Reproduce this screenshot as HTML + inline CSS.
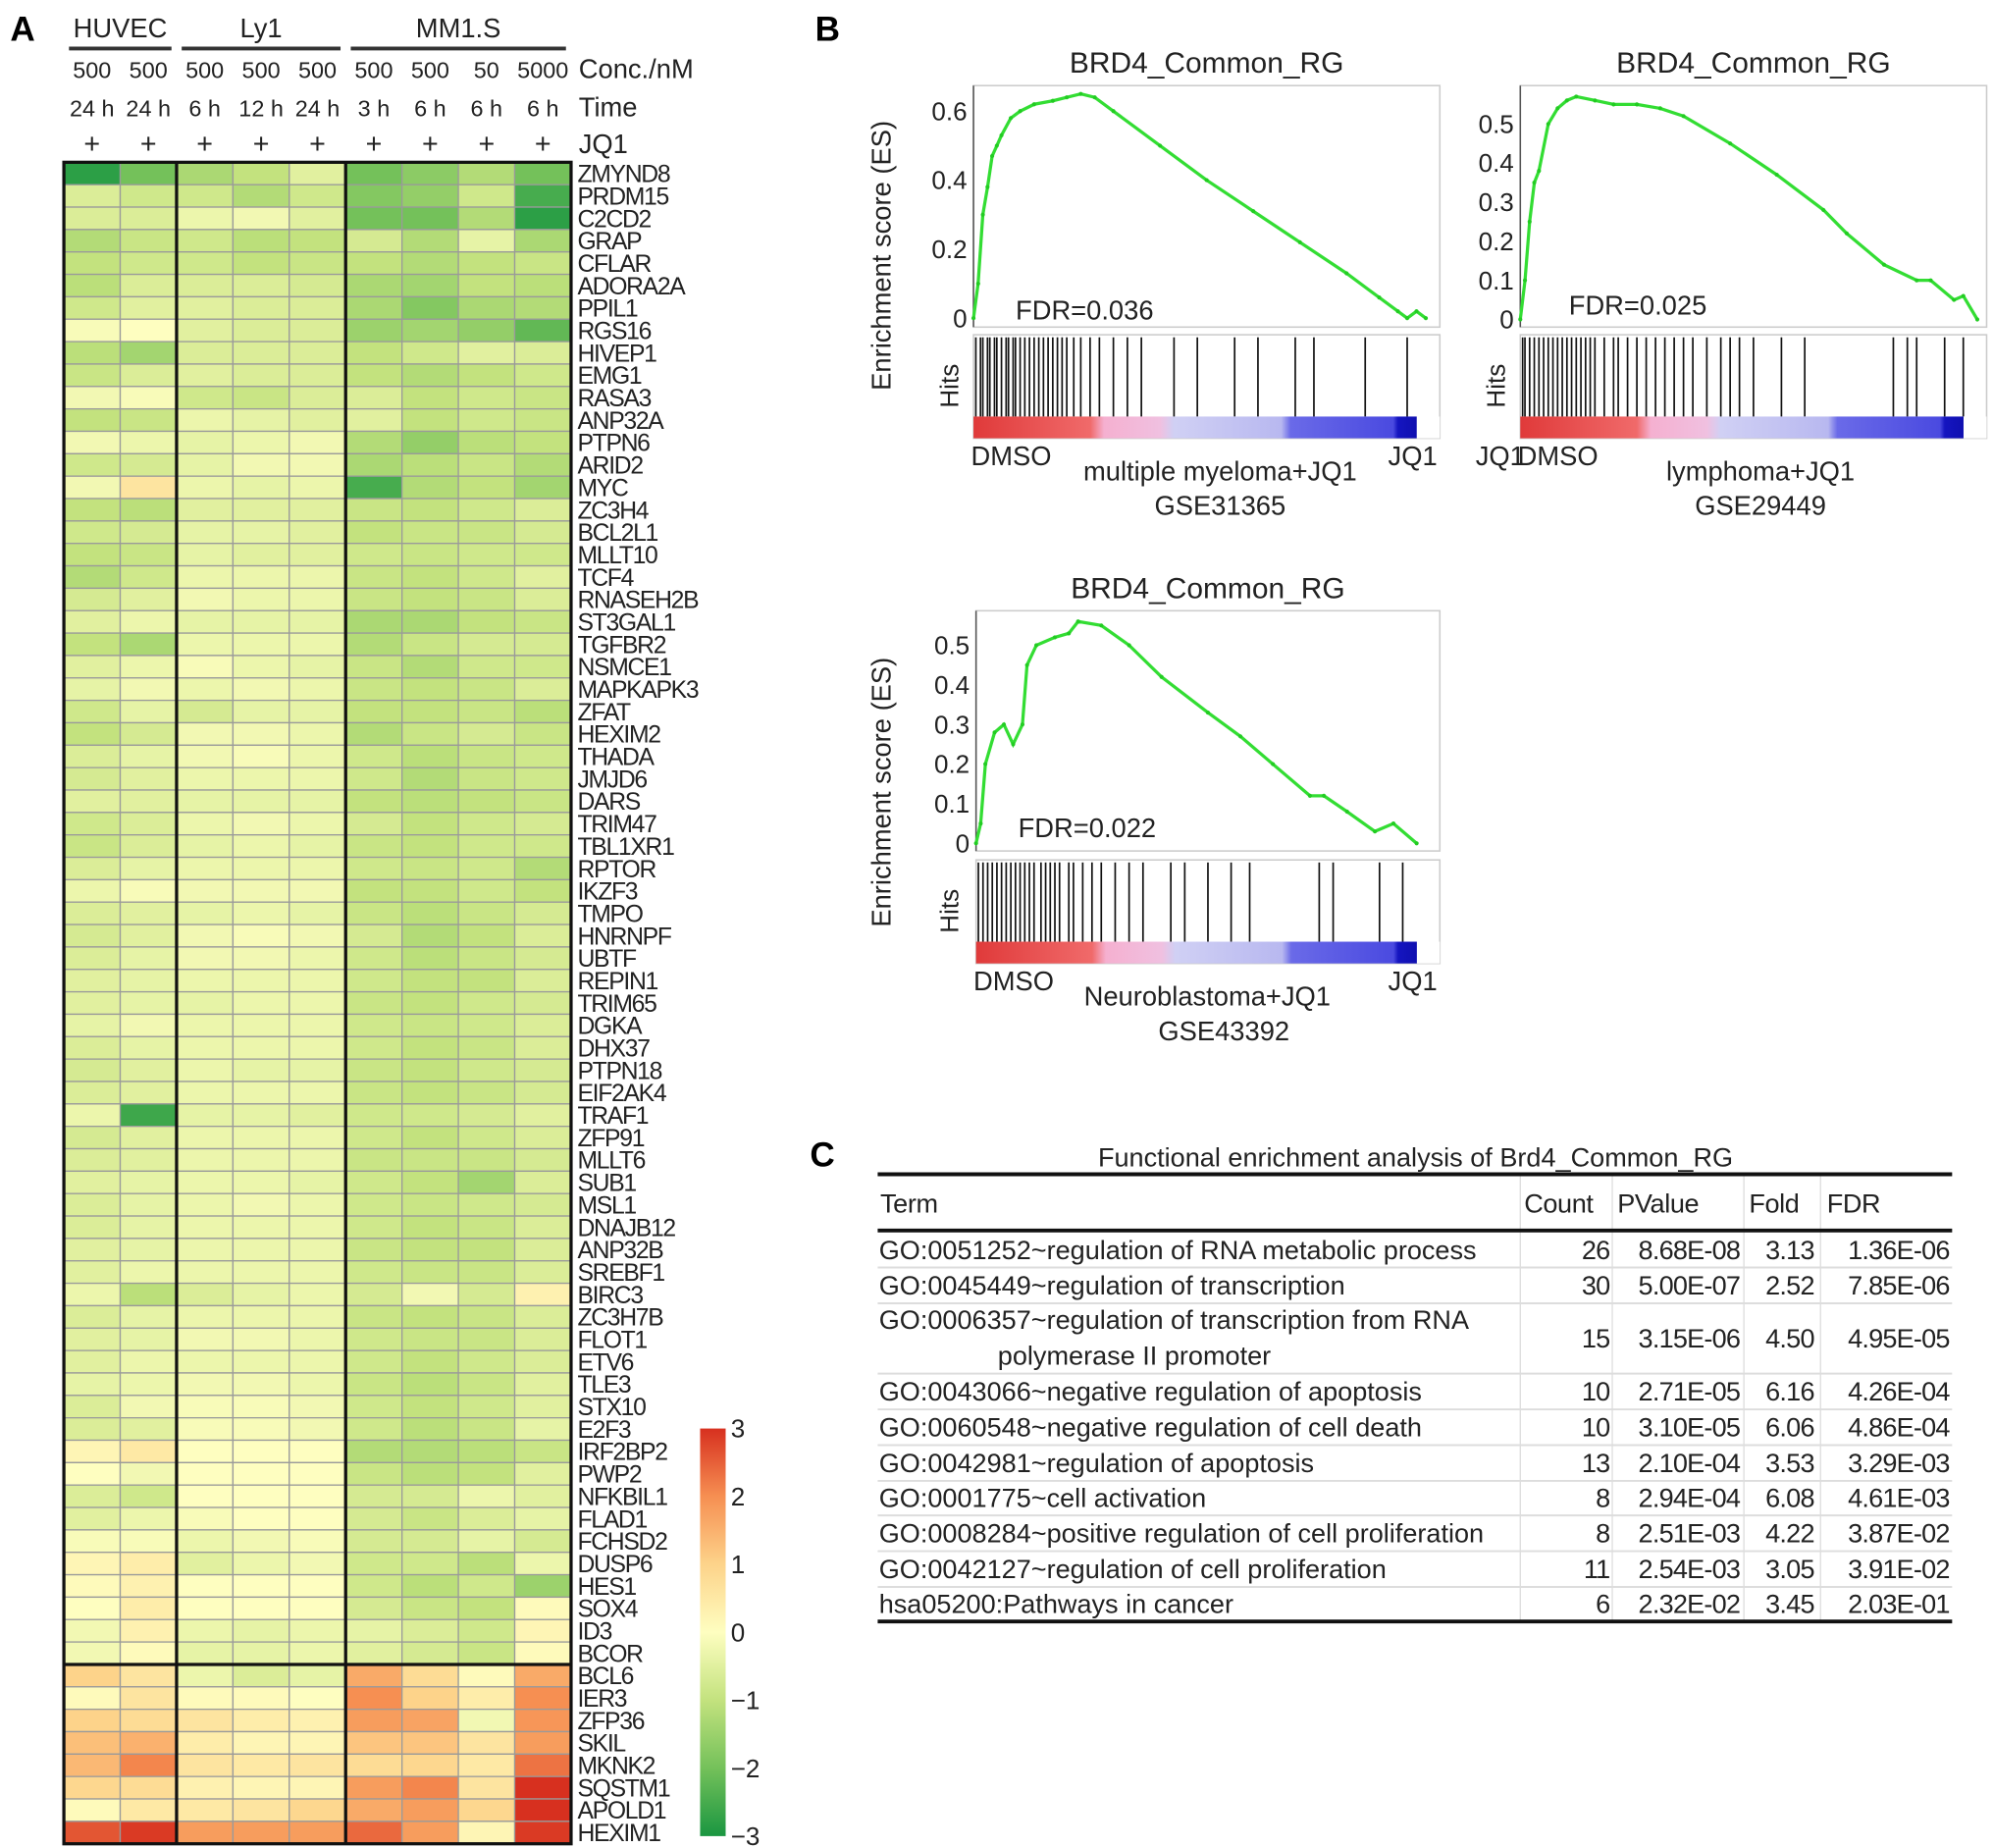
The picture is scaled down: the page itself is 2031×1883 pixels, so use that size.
<!DOCTYPE html>
<html><head><meta charset="utf-8"><style>
html,body{margin:0;padding:0;background:#fff;}
svg{display:block;font-family:"Liberation Sans",Arial,sans-serif;}
</style></head><body>
<svg id="fig" width="2031" height="1883" viewBox="0 0 1560 1446.3" preserveAspectRatio="none" xmlns="http://www.w3.org/2000/svg">
<g id="panelA"></g>
<g id="panelB"></g>
<g id="panelC"></g>
</svg>
<script>
const genes=["ZMYND8","PRDM15","C2CD2","GRAP","CFLAR","ADORA2A","PPIL1","RGS16","HIVEP1","EMG1","RASA3","ANP32A","PTPN6","ARID2","MYC","ZC3H4","BCL2L1","MLLT10","TCF4","RNASEH2B","ST3GAL1","TGFBR2","NSMCE1","MAPKAPK3","ZFAT","HEXIM2","THADA","JMJD6","DARS","TRIM47","TBL1XR1","RPTOR","IKZF3","TMPO","HNRNPF","UBTF","REPIN1","TRIM65","DGKA","DHX37","PTPN18","EIF2AK4","TRAF1","ZFP91","MLLT6","SUB1","MSL1","DNAJB12","ANP32B","SREBF1","BIRC3","ZC3H7B","FLOT1","ETV6","TLE3","STX10","E2F3","IRF2BP2","PWP2","NFKBIL1","FLAD1","FCHSD2","DUSP6","HES1","SOX4","ID3","BCOR","BCL6","IER3","ZFP36","SKIL","MKNK2","SQSTM1","APOLD1","HEXIM1"];
const concLabels=["500","500","500","500","500","500","500","50","5000"];
const timeLabels=["24 h","24 h","6 h","12 h","24 h","3 h","6 h","6 h","6 h"];
const groups=[["HUVEC",0,2],["Ly1",2,5],["MM1.S",5,9]];
const heatValues=[
[-2.8,-2.0,-1.3,-1.0,-0.5,-2.0,-1.7,-1.2,-2.0],
[-0.6,-0.8,-0.8,-1.2,-0.8,-1.8,-1.6,-0.8,-2.5],
[-0.6,-0.6,-0.3,-0.2,-0.5,-2.0,-2.0,-1.2,-2.8],
[-1.2,-0.9,-0.8,-1.1,-1.0,-0.7,-1.2,-0.4,-1.3],
[-1.0,-0.8,-0.8,-1.0,-0.9,-1.0,-1.2,-1.0,-0.9],
[-1.1,-0.6,-0.6,-0.6,-0.7,-1.3,-1.4,-1.0,-1.1],
[-0.8,-0.5,-0.5,-0.6,-0.6,-1.3,-1.8,-1.3,-1.2],
[-0.1,0.0,-0.5,-0.6,-0.6,-1.5,-1.4,-1.6,-2.2],
[-1.1,-1.4,-0.6,-0.6,-0.6,-1.0,-0.8,-0.5,-0.6],
[-0.9,-0.6,-0.5,-0.6,-0.6,-1.0,-1.2,-1.0,-0.8],
[-0.2,-0.1,-0.8,-0.9,-0.6,-0.6,-1.0,-0.8,-0.9],
[-1.0,-0.9,-0.3,-0.4,-0.5,-0.5,-1.0,-0.8,-0.9],
[-0.2,-0.3,-0.4,-0.3,-0.2,-1.2,-1.6,-1.1,-1.0],
[-0.8,-0.7,-0.4,-0.2,-0.2,-1.3,-1.1,-0.9,-1.2],
[-0.2,0.6,-0.3,-0.4,-0.3,-2.5,-1.2,-1.0,-1.4],
[-1.0,-1.1,-0.5,-0.5,-0.5,-0.9,-1.0,-0.8,-0.6],
[-0.8,-0.7,-0.4,-0.4,-0.5,-1.0,-0.9,-0.9,-0.7],
[-1.0,-0.9,-0.4,-0.5,-0.5,-0.8,-0.9,-0.8,-0.8],
[-1.2,-0.8,-0.3,-0.3,-0.3,-0.9,-1.0,-0.8,-0.5],
[-0.7,-0.5,-0.2,-0.3,-0.3,-0.9,-1.0,-0.9,-0.6],
[-0.5,-0.3,-0.4,-0.4,-0.4,-1.3,-1.3,-1.0,-0.9],
[-1.0,-1.3,-0.3,-0.3,-0.3,-1.2,-0.9,-0.7,-0.7],
[-0.5,-0.3,-0.1,-0.3,-0.4,-0.9,-1.2,-0.8,-0.8],
[-0.4,-0.2,-0.3,-0.2,-0.3,-0.9,-1.0,-0.9,-0.6],
[-0.8,-0.4,-0.7,-0.4,-0.4,-1.0,-1.0,-0.9,-1.1],
[-1.0,-0.7,-0.2,-0.2,-0.3,-1.2,-0.9,-0.7,-0.9],
[-0.6,-0.4,-0.2,-0.1,-0.3,-0.8,-1.1,-0.9,-0.8],
[-0.7,-0.5,-0.3,-0.3,-0.3,-0.8,-1.2,-0.9,-0.8],
[-0.5,-0.5,-0.4,-0.4,-0.4,-1.0,-1.1,-1.0,-0.9],
[-0.8,-0.6,-0.3,-0.2,-0.3,-0.7,-1.0,-0.8,-0.7],
[-0.9,-0.6,-0.4,-0.3,-0.4,-0.9,-1.0,-0.8,-0.8],
[-0.6,-0.4,-0.3,-0.3,-0.3,-0.8,-0.9,-0.8,-1.2],
[-0.3,-0.1,-0.2,-0.2,-0.2,-1.0,-1.0,-0.8,-1.0],
[-0.6,-0.5,-0.4,-0.3,-0.4,-0.9,-1.1,-0.9,-0.7],
[-0.7,-0.5,-0.2,-0.1,-0.2,-0.7,-1.2,-1.0,-0.6],
[-0.6,-0.4,-0.2,-0.2,-0.3,-0.8,-1.1,-0.9,-0.7],
[-0.5,-0.4,-0.3,-0.3,-0.3,-0.8,-1.0,-1.0,-0.6],
[-0.5,-0.4,-0.4,-0.3,-0.3,-0.9,-1.0,-0.8,-0.7],
[-0.4,-0.2,-0.3,-0.3,-0.3,-0.8,-0.9,-0.8,-0.6],
[-0.6,-0.4,-0.3,-0.3,-0.3,-0.8,-1.0,-0.9,-0.6],
[-0.7,-0.5,-0.3,-0.4,-0.4,-0.9,-1.0,-0.8,-0.7],
[-0.6,-0.5,-0.3,-0.3,-0.3,-0.9,-1.0,-0.9,-0.7],
[-0.3,-2.6,-0.4,-0.4,-0.5,-0.8,-0.8,-0.7,-0.5],
[-0.7,-0.5,-0.3,-0.3,-0.3,-0.8,-1.0,-0.8,-0.6],
[-0.6,-0.5,-0.3,-0.3,-0.3,-0.9,-0.9,-0.9,-0.7],
[-0.5,-0.4,-0.3,-0.3,-0.4,-0.8,-1.0,-1.4,-0.6],
[-0.6,-0.4,-0.3,-0.2,-0.3,-0.8,-0.9,-0.8,-0.7],
[-0.6,-0.4,-0.3,-0.3,-0.3,-0.8,-1.0,-0.9,-0.6],
[-0.5,-0.4,-0.3,-0.3,-0.3,-0.9,-1.0,-1.0,-0.6],
[-0.5,-0.3,-0.3,-0.3,-0.3,-0.8,-0.9,-0.9,-0.6],
[-0.3,-1.1,-0.6,-0.4,-0.3,-0.7,-0.2,-0.7,0.3],
[-0.6,-0.4,-0.3,-0.3,-0.3,-0.9,-1.0,-0.9,-0.6],
[-0.5,-0.4,-0.2,-0.2,-0.3,-0.8,-0.9,-0.9,-0.6],
[-0.5,-0.3,-0.3,-0.3,-0.3,-0.8,-1.0,-0.8,-0.6],
[-0.4,-0.3,-0.2,-0.2,-0.3,-0.9,-1.1,-0.9,-0.5],
[-0.6,-0.2,-0.1,-0.1,-0.2,-0.8,-1.0,-0.8,-0.5],
[-0.6,-0.5,-0.1,-0.1,-0.2,-0.8,-1.1,-0.9,-0.4],
[0.2,0.5,0.0,0.0,0.0,-1.2,-1.2,-1.1,-0.9],
[0.0,-0.2,0.0,0.0,0.0,-0.9,-1.1,-1.0,-0.5],
[-0.6,-0.8,0.0,0.0,0.0,-0.7,-0.7,-0.3,-0.5],
[-0.5,-0.3,-0.1,0.0,0.0,-0.7,-0.9,-0.6,-0.4],
[-0.1,-0.1,-0.3,-0.2,-0.1,-0.7,-0.7,-0.4,-0.7],
[0.2,0.4,-0.5,-0.3,-0.2,-0.8,-0.8,-1.1,-0.3],
[0.1,0.3,0.0,0.0,0.0,-0.8,-1.1,-0.8,-1.5],
[0.0,0.4,0.0,0.0,0.0,-0.7,-0.9,-1.0,0.1],
[-0.2,0.3,-0.3,-0.4,-0.3,-0.4,-0.6,-0.8,0.2],
[-0.2,0.1,-0.4,-0.4,-0.3,-0.5,-0.7,-0.9,0.1],
[1.0,0.6,-0.3,-0.6,-0.4,1.6,0.8,0.1,1.6],
[0.1,0.6,0.1,0.1,0.0,2.0,1.0,0.4,2.0],
[1.0,0.8,0.6,0.4,0.3,1.8,1.7,-0.2,1.9],
[1.3,1.5,0.4,0.2,0.2,1.2,1.2,0.6,1.8],
[1.4,2.1,0.6,0.5,0.6,0.8,0.9,0.5,2.3],
[0.9,0.8,0.3,0.2,0.2,1.8,2.1,0.6,3.0],
[0.1,0.5,0.5,0.6,0.9,1.6,1.8,0.9,3.0],
[2.6,2.9,1.8,1.8,1.8,2.4,1.8,0.2,2.9]];
const colorbarTicks=[3,2,1,0,-1,-2,-3];
/* GSEA data: rank fraction and enrichment score */
const es1Rank=[0,0.01,0.02,0.03,0.04,0.05,0.06,0.08,0.1,0.13,0.17,0.2,0.23,0.26,0.3,0.4,0.5,0.6,0.7,0.8,0.87,0.91,0.93,0.95,0.97];
const es1Score=[0,0.1,0.3,0.38,0.47,0.5,0.53,0.58,0.6,0.62,0.63,0.64,0.65,0.64,0.6,0.5,0.4,0.31,0.22,0.13,0.06,0.02,0.0,0.02,0.0];
const es2Rank=[0,0.01,0.02,0.03,0.04,0.06,0.08,0.1,0.12,0.16,0.2,0.25,0.3,0.35,0.45,0.55,0.65,0.7,0.78,0.85,0.88,0.93,0.95,0.98];
const es2Score=[0,0.1,0.25,0.35,0.38,0.5,0.54,0.56,0.57,0.56,0.55,0.55,0.54,0.52,0.45,0.37,0.28,0.22,0.14,0.1,0.1,0.05,0.06,0.0];
const es3Rank=[0,0.01,0.02,0.04,0.06,0.08,0.1,0.11,0.13,0.17,0.2,0.22,0.27,0.33,0.4,0.5,0.57,0.64,0.72,0.75,0.8,0.86,0.9,0.95];
const es3Score=[0,0.05,0.2,0.28,0.3,0.25,0.3,0.45,0.5,0.52,0.53,0.56,0.55,0.5,0.42,0.33,0.27,0.2,0.12,0.12,0.08,0.03,0.05,0.0];
const hits1=[0.005,0.015,0.02,0.03,0.035,0.045,0.05,0.06,0.07,0.075,0.085,0.09,0.1,0.11,0.12,0.13,0.14,0.15,0.16,0.17,0.18,0.19,0.2,0.215,0.23,0.25,0.27,0.3,0.33,0.36,0.43,0.48,0.56,0.61,0.69,0.73,0.84,0.93];
const hits2=[0.005,0.01,0.02,0.03,0.04,0.05,0.06,0.07,0.08,0.09,0.1,0.11,0.12,0.13,0.14,0.15,0.16,0.18,0.2,0.21,0.23,0.25,0.27,0.29,0.31,0.33,0.35,0.37,0.4,0.43,0.45,0.47,0.5,0.56,0.61,0.8,0.83,0.85,0.91,0.95];
const hits3=[0.005,0.015,0.025,0.035,0.045,0.055,0.065,0.075,0.085,0.095,0.105,0.115,0.125,0.14,0.15,0.16,0.17,0.18,0.2,0.21,0.23,0.25,0.27,0.3,0.33,0.36,0.42,0.45,0.5,0.55,0.59,0.74,0.77,0.87,0.92];
const ticks1=[0,0.2,0.4,0.6];
const ticks2=[0,0.1,0.2,0.3,0.4,0.5];
const ticks3=[0,0.1,0.2,0.3,0.4,0.5];
const tableTerms=[["GO:0051252~regulation of RNA metabolic process"],["GO:0045449~regulation of transcription"],["GO:0006357~regulation of transcription from RNA","polymerase II promoter"],["GO:0043066~negative regulation of apoptosis"],["GO:0060548~negative regulation of cell death"],["GO:0042981~regulation of apoptosis"],["GO:0001775~cell activation"],["GO:0008284~positive regulation of cell proliferation"],["GO:0042127~regulation of cell proliferation"],["hsa05200:Pathways in cancer"]];
const tableCount=["26","30","15","10","10","13","8","8","11","6"];
const tablePValue=["8.68E-08","5.00E-07","3.15E-06","2.71E-05","3.10E-05","2.10E-04","2.94E-04","2.51E-03","2.54E-03","2.32E-02"];
const tableFold=["3.13","2.52","4.50","6.16","6.06","3.53","6.08","4.22","3.05","3.45"];
const tableFDR=["1.36E-06","7.85E-06","4.95E-05","4.26E-04","4.86E-04","3.29E-03","4.61E-03","3.87E-02","3.91E-02","2.03E-01"];

const NS="http://www.w3.org/2000/svg";
function mk(parent,tag,attrs,text){const e=document.createElementNS(NS,tag);for(const k in attrs)e.setAttribute(k,attrs[k]);if(text!==undefined)e.textContent=text;parent.appendChild(e);return e;}
const stops=[[-3,[26,150,65]],[-2,[116,193,90]],[-1,[195,226,126]],[0,[254,254,192]],[1,[253,211,138]],[2,[246,143,82]],[3,[215,48,31]]];
function colorFor(v){v=Math.max(-3,Math.min(3,v));for(let i=0;i<stops.length-1;i++){const a=stops[i],b=stops[i+1];if(v<=b[0]){const t=(v-a[0])/(b[0]-a[0]);const c=a[1].map((x,j)=>Math.round(x+(b[1][j]-x)*t));return `rgb(${c[0]},${c[1]},${c[2]})`;}}return 'rgb(215,48,31)';}

/* ---------- Panel A ---------- */
const A=document.getElementById('panelA');
const hx0=50,hx1=447,hy0=127,hy1=1443;
const nC=9,nR=genes.length;
const cw=(hx1-hx0)/nC,rh=(hy1-hy0)/nR;
const colX=c=>hx0+c*cw, rowY=r=>hy0+r*rh;
let t=mk(A,'text',{x:8,y:32,'font-size':27,'font-weight':'bold'},'A');

groups.forEach(g=>{
  const x0=colX(g[1])+4,x1=colX(g[2])-4;
  let e=mk(A,'text',{x:(x0+x1)/2,y:29,'font-size':21,'text-anchor':'middle',fill:'#222'},g[0]);
  
  let l=mk(A,'line',{x1:x0,x2:x1,y1:38,y2:38,stroke:'#333','stroke-width':3});
  
});
for(let c=0;c<nC;c++){
  const cx=colX(c)+cw/2;
  let e=mk(A,'text',{x:cx,y:61,'font-size':18,'text-anchor':'middle',fill:'#222'},concLabels[c]);
  
  e=mk(A,'text',{x:cx,y:91,'font-size':18,'text-anchor':'middle',fill:'#222'},timeLabels[c]);
  
  e=mk(A,'text',{x:cx,y:120,'font-size':22,'text-anchor':'middle',fill:'#222'},'+');
  
}
[["Conc./nM",61],["Time",91],["JQ1",120]].forEach(p=>{let e=mk(A,'text',{x:453,y:p[1],'font-size':21,fill:'#222'},p[0]);});
for(let r=0;r<nR;r++){
  for(let c=0;c<nC;c++){
    let e=mk(A,'rect',{x:colX(c),y:rowY(r),width:cw,height:rh,fill:colorFor(heatValues[r][c]),stroke:'#9a9a9a','stroke-width':1});
    
  }
  let e=mk(A,'text',{x:452,y:rowY(r)+rh-2,'font-size':19,'letter-spacing':'-1',fill:'#222'},genes[r]);
  
}
let fr=mk(A,'rect',{x:hx0,y:hy0,width:hx1-hx0,height:hy1-hy0,fill:'none',stroke:'#111','stroke-width':2.5});

[2,5].forEach(c=>{let l=mk(A,'line',{x1:colX(c),x2:colX(c),y1:hy0,y2:hy1,stroke:'#111','stroke-width':2.5});});
let hl=mk(A,'line',{x1:hx0,x2:hx1,y1:rowY(67),y2:rowY(67),stroke:'#111','stroke-width':2.5});

/* colorbar */
const defs=mk(document.getElementById('fig'),'defs',{});
const lg=mk(defs,'linearGradient',{id:'cbar',x1:0,y1:1,x2:0,y2:0});
stops.forEach(s=>mk(lg,'stop',{offset:((s[0]+3)/6*100)+'%','stop-color':`rgb(${s[1].join(',')})`}));
const cbY0=1118,cbY1=1437,cbv=v=>cbY1-(v+3)/6*(cbY1-cbY0);
let cb=mk(A,'rect',{x:548,y:cbY0,width:20,height:cbY1-cbY0,fill:'url(#cbar)'});

colorbarTicks.forEach(v=>{let e=mk(A,'text',{x:572,y:cbv(v)+7,'font-size':20,fill:'#222'},v<0?'\u2212'+(-v):String(v));});

/* ---------- Panel B ---------- */
const B=document.getElementById('panelB');
t=mk(B,'text',{x:638,y:32,'font-size':27,'font-weight':'bold'},'B');

const grad=mk(defs,'linearGradient',{id:'rankbar',x1:0,y1:0,x2:1,y2:0});
[[0,'#e03a3a'],[0.25,'#f06a6a'],[0.28,'#f5b0d0'],[0.4,'#f0c0e0'],[0.43,'#d0d0f4'],[0.66,'#b8b8f0'],[0.68,'#6a6ae8'],[0.9,'#4a4ae0'],[0.91,'#1515c0'],[0.95,'#1010b0'],[0.951,'#ffffff'],[1,'#ffffff']].forEach(s=>mk(grad,'stop',{offset:s[0],'stop-color':s[1]}));
function gsea(o){
  const g=mk(B,'g',{});
  const w=o.x1-o.x0;
  const xs=f=>o.x0+f*w, ys=v=>o.y0v-(v/o.ymax)*(o.y0v-o.yTop);
  let e=mk(g,'text',{x:(o.x0+o.x1)/2,y:o.yt-10,'font-size':23,'text-anchor':'middle',fill:'#222'},'BRD4_Common_RG');
  
  e=mk(g,'rect',{x:o.x0,y:o.yt,width:w,height:o.yb-o.yt,fill:'none',stroke:'#ccc','stroke-width':1.2});
  
  e=mk(g,'line',{x1:o.x0,x2:o.x0,y1:o.yt,y2:o.yb,stroke:'#555','stroke-width':1.2});
  o.ticks.forEach(v=>{let tt=mk(g,'text',{x:o.x0-5,y:ys(v)+7,'font-size':20,'text-anchor':'end',fill:'#222'},String(v));});
  let pts=o.rank.map((r,i)=>xs(r).toFixed(1)+','+ys(o.score[i]).toFixed(1)).join(' ');
  e=mk(g,'polyline',{points:pts,fill:'none',stroke:'#33dd33','stroke-width':2.5});
  
  o.rank.forEach((r,i)=>{let c=mk(g,'circle',{cx:xs(r),cy:ys(o.score[i]),r:1.6,fill:'#22cc22'});});
  e=mk(g,'text',{x:o.fdrX,y:o.fdrY,'font-size':21,fill:'#222'},o.fdr);
  
  e=mk(g,'rect',{x:o.x0,y:o.hy0,width:w,height:o.hy1-o.hy0+17,fill:'none',stroke:'#ccc','stroke-width':1.2});
  
  o.hits.forEach(h=>{let l=mk(g,'line',{x1:xs(h),x2:xs(h),y1:o.hy0+2,y2:o.hy1,stroke:'#111','stroke-width':1.3});});
  e=mk(g,'rect',{x:o.x0,y:o.hy1,width:w,height:17,fill:'url(#rankbar)'});
  
  e=mk(g,'text',{x:o.hitsX,y:(o.hy0+o.hy1)/2+8,'font-size':20,'text-anchor':'middle',fill:'#222',transform:`rotate(-90 ${o.hitsX} ${(o.hy0+o.hy1)/2+8})`},'Hits');
  
  o.labels.forEach(L=>{let tt=mk(g,'text',{x:L[1],y:L[2],'font-size':21,'text-anchor':L[3]||'middle',fill:'#222'},L[0]);});
  if(o.ylab){e=mk(g,'text',{x:697,y:o.ylab,'font-size':21,'text-anchor':'middle',fill:'#222',transform:`rotate(-90 697 ${o.ylab})`},'Enrichment  score (ES)');}
}
gsea({name:'gsea-multiple-myeloma',x0:762,x1:1127,yt:67,yb:256,y0v:249,yTop:87,ymax:0.6,ticks:ticks1,rank:es1Rank,score:es1Score,hits:hits1,hy0:262,hy1:326,fdr:'FDR=0.036',fdrX:795,fdrY:250,hitsX:750,ylab:200,
 labels:[['DMSO',760,364,'start'],['multiple myeloma+JQ1',955,376],['JQ1',1125,364,'end'],['GSE31365',955,403]]});
gsea({name:'gsea-lymphoma',x0:1190,x1:1555,yt:67,yb:256,y0v:250,yTop:97,ymax:0.5,ticks:ticks2,rank:es2Rank,score:es2Score,hits:hits2,hy0:262,hy1:326,fdr:'FDR=0.025',fdrX:1228,fdrY:246,hitsX:1178,ylab:null,
 labels:[['JQ1',1155,364,'start'],['DMSO',1188,364,'start'],['lymphoma+JQ1',1378,376],['GSE29449',1378,403]]});
gsea({name:'gsea-neuroblastoma',x0:764,x1:1127,yt:478,yb:666,y0v:660,yTop:505,ymax:0.5,ticks:ticks3,rank:es3Rank,score:es3Score,hits:hits3,hy0:673,hy1:737,fdr:'FDR=0.022',fdrX:797,fdrY:655,hitsX:750,ylab:620,
 labels:[['DMSO',762,775,'start'],['Neuroblastoma+JQ1',945,787],['JQ1',1125,775,'end'],['GSE43392',958,814]]});

/* ---------- Panel C ---------- */
const C=document.getElementById('panelC');
t=mk(C,'text',{x:634,y:913,'font-size':27,'font-weight':'bold'},'C');

const tx0=687,tx1=1528,FS=20.8;
t=mk(C,'text',{x:1108,y:913,'font-size':20.8,'text-anchor':'middle',fill:'#222'},'Functional enrichment analysis of Brd4_Common_RG');

const rowTop=[965,992,1020,1075,1103,1131,1159,1186,1214,1242];
const rowH=[27,28,55,28,28,28,27,28,28,27];
[1190,1262,1365,1425].forEach(x=>{let l=mk(C,'line',{x1:x,x2:x,y1:920,y2:1269,stroke:'#ddd','stroke-width':1});});
let ln=mk(C,'line',{x1:tx0,x2:tx1,y1:919,y2:919,stroke:'#111','stroke-width':3});
ln=mk(C,'line',{x1:tx0,x2:tx1,y1:963,y2:963,stroke:'#111','stroke-width':3});
ln=mk(C,'line',{x1:tx0,x2:tx1,y1:1269,y2:1269,stroke:'#111','stroke-width':3});
[["Term",689],["Count",1193],["PValue",1266],["Fold",1369],["FDR",1430]].forEach(h=>{let e=mk(C,'text',{x:h[1],y:949,'font-size':FS,'letter-spacing':'-0.3',fill:'#222'},h[0]);});
tableTerms.forEach((term,i)=>{
  const y0=rowTop[i],h=rowH[i],mid=y0+h/2+7;
  if(i>0){let l=mk(C,'line',{x1:tx0,x2:tx1,y1:y0,y2:y0,stroke:'#ddd','stroke-width':1.5});}
  let e;
  if(term.length===1){e=mk(C,'text',{x:688,y:mid,'font-size':FS,fill:'#222'},term[0]);}
  else{e=mk(C,'text',{x:688,y:y0+20,'font-size':FS,fill:'#222'},term[0]);
       e=mk(C,'text',{x:781,y:y0+48,'font-size':FS,fill:'#222'},term[1]);}
  [[tableCount[i],1260],[tablePValue[i],1362],[tableFold[i],1420],[tableFDR[i],1526]].forEach(v=>{let c=mk(C,'text',{x:v[1],y:mid,'font-size':FS,'text-anchor':'end','letter-spacing':'-0.6',fill:'#222'},v[0]);});
});
</script>
</body></html>
